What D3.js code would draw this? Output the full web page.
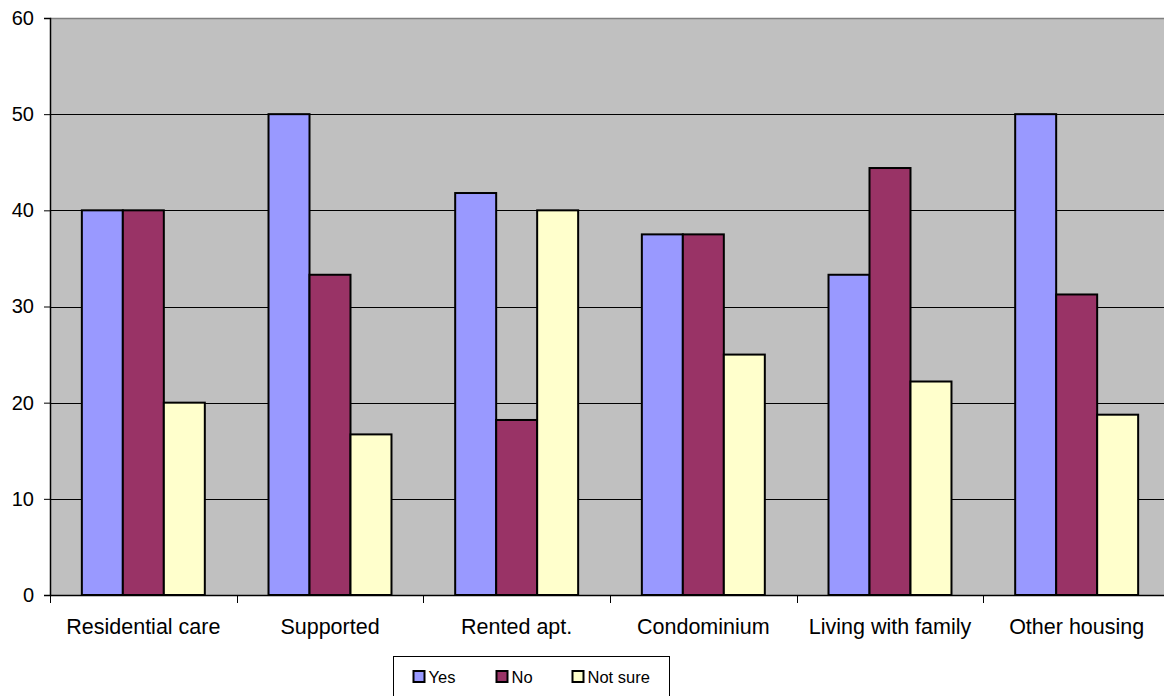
<!DOCTYPE html>
<html>
<head>
<meta charset="utf-8">
<script src="https://cdn.jsdelivr.net/npm/d3@7"></script>
<style>
  html, body { margin: 0; padding: 0; background: #fff; }
  svg { display: block; font-family: "Liberation Sans", Arial, sans-serif; }
</style>
</head>
<body>
<svg id="chart" width="1164" height="696"></svg>
<script>
// Housing type survey responses (percent)
const categories = ["Residential care", "Supported", "Rented apt.", "Condominium", "Living with family", "Other housing"];
const seriesNames = ["Yes", "No", "Not sure"];
const yesValues = [40, 50, 41.8, 37.5, 33.3, 50];
const noValues = [40, 33.3, 18.2, 37.5, 44.4, 31.25];
const notSureValues = [20, 16.7, 40, 25, 22.2, 18.75];
const yTicks = [0, 10, 20, 30, 40, 50, 60];
const seriesColors = ["#9999FF", "#993366", "#FFFFCC"];

const seriesValues = [yesValues, noValues, notSureValues];

const svg = d3.select("#chart");
const plot = { left: 50, top: 18, right: 1170, bottom: 595 };

const x0 = d3.scaleBand().domain(categories).range([plot.left, plot.right]).padding(0);
const x1 = d3.scaleBand().domain(seriesNames).range([0, x0.bandwidth()])
  .paddingInner(0).paddingOuter(0.777);
const y = d3.scaleLinear().domain([0, 60]).range([plot.bottom, plot.top]);

// plot background
svg.append("rect")
  .attr("x", plot.left).attr("y", plot.top)
  .attr("width", plot.right - plot.left).attr("height", plot.bottom - plot.top)
  .attr("fill", "#C0C0C0");

// top border of plot area
svg.append("line")
  .attr("x1", plot.left).attr("x2", plot.right)
  .attr("y1", plot.top + 0.5).attr("y2", plot.top + 0.5)
  .attr("stroke", "#808080").attr("stroke-width", 1.5);

// horizontal gridlines
svg.append("g")
  .selectAll("line")
  .data(yTicks.filter(t => t > 0 && t < 60))
  .join("line")
  .attr("x1", plot.left).attr("x2", plot.right)
  .attr("y1", d => Math.round(y(d)) + 0.5).attr("y2", d => Math.round(y(d)) + 0.5)
  .attr("stroke", "#000").attr("stroke-width", 1);

// bars
const groups = svg.append("g")
  .selectAll("g")
  .data(categories)
  .join("g")
  .attr("transform", d => `translate(${x0(d)},0)`);

groups.selectAll("rect")
  .data((c, i) => seriesNames.map((s, k) => ({ s, k, v: seriesValues[k][i] })))
  .join("rect")
  .attr("x", d => x1(d.s))
  .attr("y", d => y(d.v))
  .attr("width", x1.bandwidth())
  .attr("height", d => y(0) - y(d.v))
  .attr("fill", d => seriesColors[d.k])
  .attr("stroke", "#000")
  .attr("stroke-width", 2);

// y axis
const yAxis = svg.append("g")
  .attr("transform", `translate(${plot.left},0)`)
  .call(d3.axisLeft(y).tickValues(yTicks).tickSize(6).tickPadding(10).tickFormat(d3.format("d")));
yAxis.select(".domain").attr("stroke", "#000").attr("stroke-width", 1.5);
yAxis.selectAll(".tick line").attr("stroke", "#000");
yAxis.selectAll(".tick text")
  .attr("font-size", 20).attr("fill", "#000")
  .attr("font-family", "'Liberation Sans', Arial, sans-serif");

// x axis
const xAxis = svg.append("g")
  .attr("transform", `translate(0,${plot.bottom})`)
  .call(d3.axisBottom(x0).tickSize(0).tickPadding(24));
xAxis.select(".domain").attr("stroke", "#000").attr("stroke-width", 1.5);
xAxis.selectAll(".tick text")
  .attr("font-size", 21.5).attr("fill", "#000")
  .attr("font-family", "'Liberation Sans', Arial, sans-serif");

// category separator ticks
const sepTicks = categories.map(c => x0(c));
svg.append("g")
  .selectAll("line")
  .data(sepTicks)
  .join("line")
  .attr("x1", d => Math.round(d) + 0.5).attr("x2", d => Math.round(d) + 0.5)
  .attr("y1", plot.bottom).attr("y2", plot.bottom + 8)
  .attr("stroke", "#000").attr("stroke-width", 1);

// legend
const legend = svg.append("g").attr("transform", "translate(393.5,656.5)");
legend.append("rect")
  .attr("width", 276).attr("height", 42)
  .attr("fill", "#fff").attr("stroke", "#000").attr("stroke-width", 1);

const legendX = [20, 103, 179];
const items = legend.selectAll("g.item")
  .data(seriesNames)
  .join("g")
  .attr("class", "item")
  .attr("transform", (d, i) => `translate(${legendX[i]},20)`);
items.append("rect")
  .attr("x", 0).attr("y", -5.5)
  .attr("width", 11).attr("height", 11)
  .attr("fill", (d, i) => seriesColors[i])
  .attr("stroke", "#000").attr("stroke-width", 2);
items.append("text")
  .attr("x", 15).attr("y", 6)
  .attr("font-size", 16.5)
  .attr("fill", "#000")
  .text(d => d);
</script>
</body>
</html>
